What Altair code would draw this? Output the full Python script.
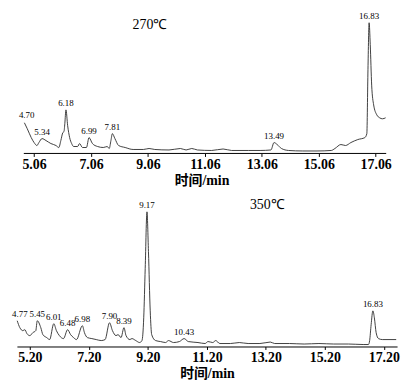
import altair as alt
import pandas as pd

# ---------- 270 ℃ chromatogram ----------
T270 = [4.72, 4.82, 4.96, 5.06, 5.16, 5.23, 5.34, 5.48, 5.65, 5.83, 5.93, 6.00, 6.07, 6.11,
        6.14, 6.18, 6.24, 6.31, 6.38, 6.45, 6.59, 6.66, 6.76, 6.90, 6.99, 7.11, 7.29, 7.49,
        7.63, 7.70, 7.76, 7.81, 7.90, 8.03, 8.26, 8.54, 8.90, 9.10, 9.30, 9.80, 10.20, 10.40,
        10.60, 10.80, 11.30, 11.70, 12.00, 12.60, 13.00, 13.38, 13.49, 13.60, 13.75, 14.00,
        14.50, 15.00, 15.50, 15.63, 15.84, 16.00, 16.19, 16.43, 16.68, 16.75, 16.79, 16.83,
        16.87, 16.92, 16.99, 17.10, 17.20, 17.30, 17.41]
I270 = [31, 25, 16, 11, 8, 11, 15, 13, 10, 8, 6, 13, 21, 22,
        30, 44, 28, 16, 10, 7, 7, 10, 6, 6, 16, 10, 7, 6,
        7, 5, 13, 20, 15, 8, 6, 4, 4, 5, 4, 3.5, 5, 3.5,
        5, 3.5, 3, 4.5, 3, 3, 3, 3.5, 11, 9, 5, 3,
        2.5, 2.5, 3, 5, 9, 8, 11, 14, 16, 20, 85, 132,
        110, 69, 49, 39, 36, 35, 36]
PEAKS270_T = [4.80, 5.34, 6.18, 6.99, 7.81, 13.49, 16.83]
PEAKS270_I = [33, 16, 45, 17, 21, 12, 133]
PEAKS270_LABEL = ["4.70", "5.34", "6.18", "6.99", "7.81", "13.49", "16.83"]
MAJOR270 = [5.06, 7.06, 9.06, 11.06, 13.06, 15.06, 17.06]
TITLE270 = "270℃"

# ---------- 350 ℃ chromatogram ----------
T350 = [4.77, 4.86, 4.96, 5.03, 5.10, 5.20, 5.30, 5.40, 5.45, 5.57, 5.64, 5.77, 5.87, 6.01,
        6.10, 6.20, 6.34, 6.48, 6.58, 6.68, 6.78, 6.98, 7.05, 7.15, 7.30, 7.45, 7.62, 7.75,
        7.90, 8.00, 8.12, 8.19, 8.29, 8.39, 8.46, 8.59, 8.66, 8.79, 8.92, 9.00, 9.06, 9.11,
        9.17, 9.22, 9.28, 9.33, 9.46, 9.63, 9.80, 9.90, 10.07, 10.27, 10.43, 10.57, 10.90,
        11.14, 11.24, 11.40, 11.50, 11.64, 12.00, 12.30, 12.60, 13.00, 13.35, 13.50, 14.00,
        14.50, 15.00, 15.50, 16.00, 16.50, 16.68, 16.72, 16.77, 16.83, 16.88, 16.94, 17.02,
        17.15, 17.62]
I350 = [26, 19, 16, 17, 13, 11, 14, 16, 26, 19, 12, 9, 7, 23,
        16, 11, 8, 17, 12, 9, 7, 21, 14, 9, 8, 7, 6, 7,
        24, 16, 11, 12, 9, 19, 11, 7, 8, 6, 4, 6, 29, 79,
        136, 96, 36, 12, 6, 5, 4, 6, 4, 5, 8, 5, 4,
        3, 5, 4, 6, 3, 3, 4, 3, 3, 4.5, 3, 3,
        2.5, 3, 2.5, 2.5, 2, 2, 6, 22, 36, 29, 14, 8,
        7, 7]
PEAKS350_T = [4.86, 5.45, 6.01, 6.48, 6.98, 7.90, 8.39, 9.17, 10.43, 16.83]
PEAKS350_I = [27, 27, 24, 18, 22, 25, 20, 137, 9, 37]
PEAKS350_LABEL = ["4.77", "5.45", "6.01", "6.48", "6.98", "7.90", "8.39", "9.17", "10.43", "16.83"]
MAJOR350 = [5.20, 7.20, 9.20, 11.20, 13.20, 15.20, 17.20]
TITLE350 = "350℃"

AXIS_TITLE = "时间/min"
SERIF = "'Liberation Serif', 'Times New Roman', Times, serif"
CJK = "'Liberation Serif', 'Times New Roman', 'Noto Sans CJK SC', serif"
LINE_COLOR = "#2b2b2b"


def make_axis(major, lo_tick):
    minor = [round(lo_tick + 0.5 * i, 2) for i in range(int((major[-1] - lo_tick) / 0.5) + 1)]
    codes = ",".join(str(int(round(v * 100))) for v in major)
    expr = f"indexof([{codes}], round(datum.value*100)) >= 0 ? format(datum.value, '.2f') : ''"
    return minor, expr


def panel(t, i, pk_t, pk_i, pk_lab, major, title, title_t, title_i,
          xdom, ydom, width, height, show_domain, rule_range):
    minor, expr = make_axis(major, major[0])
    df = pd.DataFrame({"t": t, "i": i})
    xscale = alt.Scale(domain=xdom, nice=False, zero=False)
    yscale = alt.Scale(domain=ydom, nice=False, zero=False)
    axis = alt.Axis(values=minor, labelExpr=expr, labelOverlap=False, grid=False,
                    domain=show_domain, domainColor="black", domainWidth=1,
                    tickColor="black", tickSize=3, tickWidth=1,
                    labelFont=SERIF, labelFontSize=14, labelFontWeight="bold",
                    labelColor="black", labelPadding=1, labelFlush=False,
                    title=AXIS_TITLE, titleFont=CJK, titleFontSize=14,
                    titleFontWeight="bold", titleColor="black", titlePadding=2)
    line = alt.Chart(df).mark_line(color=LINE_COLOR, strokeWidth=0.9, interpolate="monotone").encode(
        x=alt.X("t:Q", scale=xscale, axis=axis),
        y=alt.Y("i:Q", scale=yscale, axis=None),
    )
    lab = pd.DataFrame({"t": pk_t, "i": pk_i, "label": pk_lab})
    labels = alt.Chart(lab).mark_text(font=SERIF, fontSize=9, baseline="bottom",
                                      dy=-1, color="black").encode(
        x=alt.X("t:Q", scale=xscale), y=alt.Y("i:Q", scale=yscale), text="label:N")
    ttl = pd.DataFrame({"t": [title_t], "i": [title_i], "label": [title]})
    title_mark = alt.Chart(ttl).mark_text(font=SERIF, fontSize=14,
                                          color="black").encode(
        x=alt.X("t:Q", scale=xscale), y=alt.Y("i:Q", scale=yscale), text="label:N")
    layers = [line, labels, title_mark]
    if rule_range is not None:
        rd = pd.DataFrame({"a": [rule_range[0]], "b": [rule_range[1]], "y": [ydom[0]]})
        rule = alt.Chart(rd).mark_rule(color="black", strokeWidth=1).encode(
            x=alt.X("a:Q", scale=xscale), x2="b:Q", y=alt.Y("y:Q", scale=yscale))
        layers.append(rule)
    return alt.layer(*layers).properties(width=width, height=height)


top = panel(T270, I270, PEAKS270_T, PEAKS270_I, PEAKS270_LABEL, MAJOR270, TITLE270, 9.13, 130,
            [4.457, 17.43], [0, 142], 373, 142, False, [4.70, 17.43])
bottom = panel(T350, I350, PEAKS350_T, PEAKS350_I, PEAKS350_LABEL, MAJOR350, TITLE350, 13.25, 143,
               [4.76, 17.65], [0, 146], 384, 146, True, None)

chart = alt.vconcat(top, bottom, spacing=10).properties(
    padding={"left": 4, "top": 2, "right": 5, "bottom": 5},
    background="white",
).configure_view(stroke=None)

chart.save("out.html", embed_options={"renderer": "svg", "actions": False})
